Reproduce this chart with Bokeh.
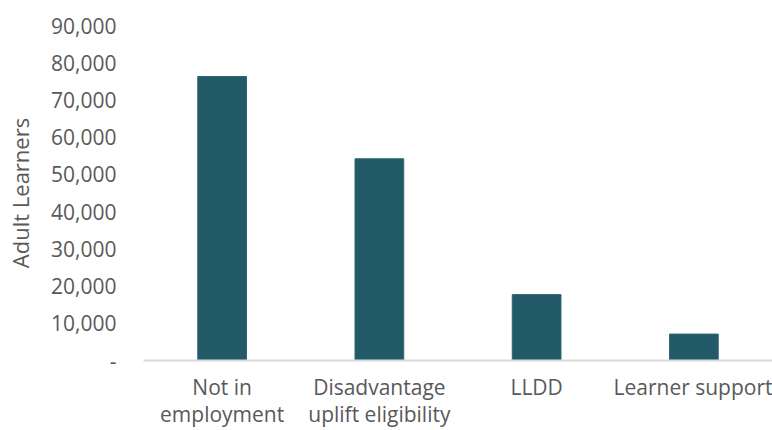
from bokeh.plotting import figure
from bokeh.models import Range1d, FixedTicker, NumeralTickFormatter, LinearAxis
from bokeh.embed import file_html
from bokeh.resources import INLINE

categories = ["Not in employment", "Disadvantage uplift eligibility", "LLDD", "Learner support"]
label_line1 = ["Not in", "Disadvantage", "LLDD", "Learner support"]
label_line2 = ["employment", "uplift eligibility", "", ""]
learners = [76300, 54200, 17700, 7100]
y_ticks = [0, 10000, 20000, 30000, 40000, 50000, 60000, 70000, 80000, 90000]

FONT = "Open Sans"
TEXT = "#595959"

xs = list(range(len(categories)))

p = figure(width=772, height=430, x_range=Range1d(-0.5, len(categories) - 0.5),
           y_range=Range1d(0, 90000), output_backend="svg", toolbar_location=None,
           min_border_left=143, min_border_right=0, min_border_top=25, min_border_bottom=70)

p.vbar(x=xs, top=learners, width=0.31, fill_color="#225A68", line_color="#2F6877", line_width=1)

p.outline_line_color = None
p.xgrid.grid_line_color = None
p.ygrid.grid_line_color = None

p.yaxis.ticker = FixedTicker(ticks=y_ticks)
p.yaxis.formatter = NumeralTickFormatter(format="0,0")
p.yaxis.major_label_overrides = {0: "-"}
p.yaxis.axis_line_color = None
p.yaxis.major_tick_line_color = None
p.yaxis.minor_tick_line_color = None
p.yaxis.major_label_standoff = 21
p.yaxis.major_label_text_font = FONT
p.yaxis.major_label_text_font_size = "21px"
p.yaxis.major_label_text_color = TEXT
p.yaxis.axis_label = "Adult Learners"
p.yaxis.axis_label_text_font = FONT
p.yaxis.axis_label_text_font_size = "22px"
p.yaxis.axis_label_text_font_style = "normal"
p.yaxis.axis_label_text_color = TEXT
p.yaxis.axis_label_standoff = 13

xa = p.xaxis[0]
xa.ticker = FixedTicker(ticks=xs)
xa.major_label_overrides = {i: t for i, t in zip(xs, label_line1)}
xa.axis_line_color = "#D9D9D9"
xa.axis_line_width = 2
xa.major_tick_line_color = None
xa.minor_tick_line_color = None
xa.major_label_standoff = 6
xa.major_label_text_font = FONT
xa.major_label_text_font_size = "21px"
xa.major_label_text_color = TEXT

xb = LinearAxis(ticker=FixedTicker(ticks=xs),
                major_label_overrides={i: (t if t else " ") for i, t in zip(xs, label_line2)},
                axis_line_color=None, major_tick_line_color=None, minor_tick_line_color=None,
                major_label_standoff=-10, major_label_text_font=FONT,
                major_label_text_font_size="21px", major_label_text_color=TEXT)
p.add_layout(xb, "below")

open("out.html", "w").write(file_html(p, INLINE))
